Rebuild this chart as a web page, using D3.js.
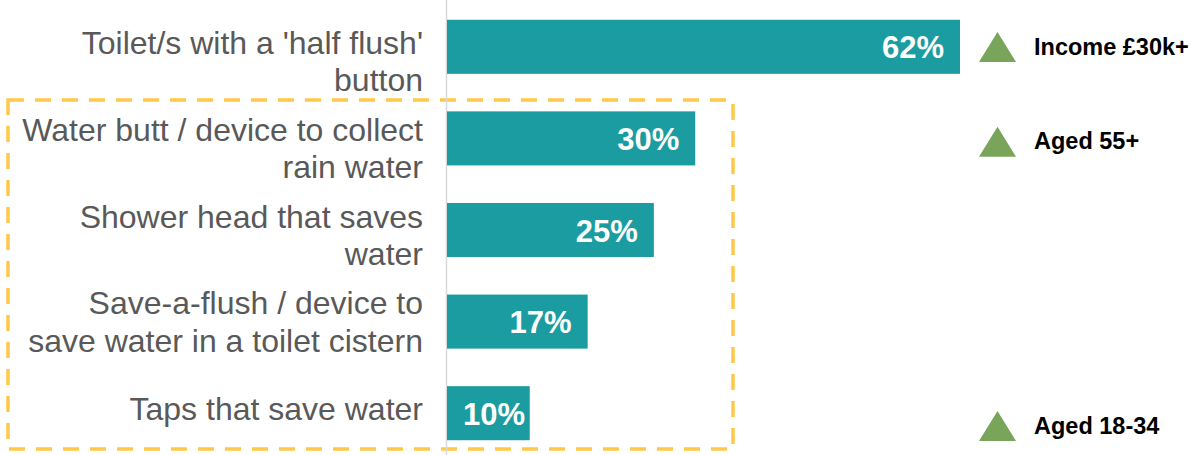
<!DOCTYPE html>
<html>
<head>
<meta charset="utf-8">
<script src="https://cdn.jsdelivr.net/npm/d3@7"></script>
<style>
  html, body { margin: 0; padding: 0; background: #ffffff; }
  svg { display: block; font-family: "Liberation Sans", Arial, sans-serif; }
</style>
</head>
<body>
<svg id="chart" width="1196" height="455"></svg>
<script>
// Water-saving devices in the home: share of respondents
const categories = [
  "Toilet/s with a 'half flush' button",
  "Water butt / device to collect rain water",
  "Shower head that saves water",
  "Save-a-flush / device to save water in a toilet cistern",
  "Taps that save water"
];
// Wrapped label lines, one entry per category
const labelLines = [
  ["Toilet/s with a 'half flush'", "button"],
  ["Water butt / device to collect", "rain water"],
  ["Shower head that saves", "water"],
  ["Save-a-flush / device to", "save water in a toilet cistern"],
  ["Taps that save water"]
];
const values = [62, 30, 25, 17, 10];
// Sub-groups significantly more likely to have each device
const markerCategories = [categories[0], categories[1], categories[4]];
const markerLabels = ["Income £30k+", "Aged 55+", "Aged 18-34"];

const svg = d3.select("#chart");
const W = 1196, H = 455;

const x = d3.scaleLinear().domain([0, 62]).range([447, 960]);
const y = d3.scaleBand().domain(categories).range([1, 459]).paddingInner(0.41).paddingOuter(0.205);
// Label text blocks sit on their own evenly spaced rows
const labelY = d3.scalePoint().domain(categories).range([72.5, 420]);
// Marker rows
const markerY = d3.scalePoint().domain(categories).range([47, 426]);

const barColor = "#1A9CA0";
const lineH = 37.5;

// Highlight box around the lower four items
svg.append("rect")
  .attr("x", 8).attr("y", 100)
  .attr("width", 725).attr("height", 349)
  .attr("fill", "none")
  .attr("stroke", "#FFC848")
  .attr("stroke-width", 3.5)
  .attr("stroke-dasharray", "16 11");

// Vertical baseline
svg.append("line")
  .attr("x1", 446.5).attr("x2", 446.5)
  .attr("y1", 0).attr("y2", H)
  .attr("stroke", "#D9D9D9").attr("stroke-width", 1.5);

// Bars
svg.append("g").selectAll("rect")
  .data(categories)
  .join("rect")
  .attr("x", x(0))
  .attr("y", d => y(d))
  .attr("width", (d, i) => x(values[i]) - x(0))
  .attr("height", y.bandwidth())
  .attr("fill", barColor);

// Value labels inside bars
const valG = svg.append("g");
categories.forEach((c, i) => {
  const t = valG.append("text")
    .attr("y", y(c) + y.bandwidth() / 2 + 11.5)
    .attr("text-anchor", "end")
    .attr("fill", "#ffffff")
    .attr("font-weight", "bold")
    .attr("font-size", 31)
    .text(values[i] + "%");
  const w = t.node().getComputedTextLength();
  t.attr("x", Math.max(x(values[i]) - 16, x(0) + 16 + w));
});

// Category labels
const labG = svg.append("g");
categories.forEach((c, i) => {
  const lines = labelLines[i];
  const first = labelY(c) - (lines.length - 1) * lineH / 2;
  const t = labG.append("text")
    .attr("text-anchor", "end")
    .attr("fill", "#595959")
    .attr("font-size", 32);
  lines.forEach((ln, j) => {
    t.append("tspan").attr("x", 423).attr("y", first + j * lineH).text(ln);
  });
});

// Markers with sub-group labels
const mk = svg.append("g");
markerCategories.forEach((c, i) => {
  const cy = markerY(c);
  const half = 18.5, th = 30;
  mk.append("path")
    .attr("d", d3.line()([[979, cy + th / 2], [979 + half, cy - th / 2], [979 + 2 * half, cy + th / 2]]) + "Z")
    .attr("fill", "#78A55A");
  mk.append("text")
    .attr("x", 1034)
    .attr("y", cy + 7.5)
    .attr("fill", "#000000")
    .attr("font-weight", "bold")
    .attr("font-size", 23.5)
    .text(markerLabels[i]);
});
</script>
</body>
</html>
